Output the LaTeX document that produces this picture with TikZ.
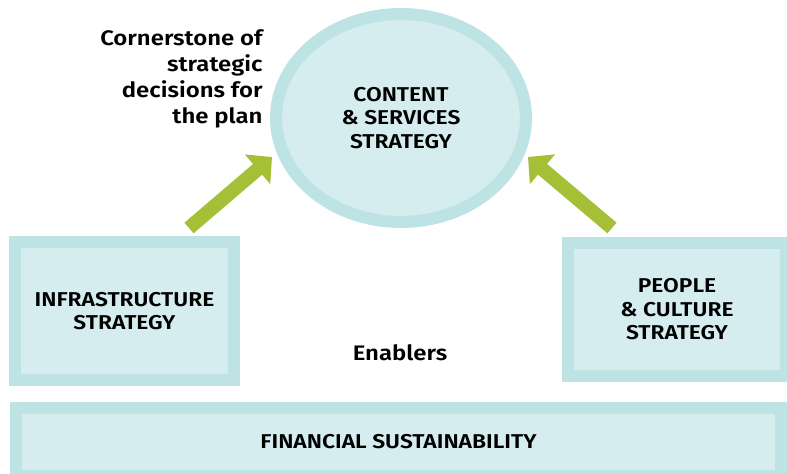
\documentclass[tikz,border=0pt]{standalone}
\usepackage{fontspec}
\setmainfont{Fira Sans}[BoldFont={Fira Sans SemiBold}, FakeStretch=1.14]
\usetikzlibrary{shapes.geometric}
\usetikzlibrary{arrows.meta}
\definecolor{rimteal}{RGB}{189,227,228}
\definecolor{fillteal}{RGB}{213,237,238}
\definecolor{leafgreen}{RGB}{165,191,55}

\begin{document}
\begin{tikzpicture}[x=0.5pt, y=-0.5pt,
	stratbox/.style={draw=rimteal, fill=fillteal, line width=6pt, inner sep=0pt, outer sep=0pt, align=center, font=\fontsize{10}{11.75}\selectfont\bfseries},
	plaintext/.style={inner sep=0pt, font=\fontsize{10.5}{13}\selectfont\bfseries},
	push/.style={leafgreen, line width=7pt, -{Triangle[length=9.5pt,width=19pt]}}]
	\useasboundingbox (0,0) rectangle (787,474);
	% the plan's centre
	\node[stratbox, ellipse, minimum width=125pt, minimum height=104pt] (content) at (401,118) {CONTENT\\\& SERVICES\\STRATEGY};
	\node[plaintext, align=right, anchor=east] (corner) at (263,79) {Cornerstone of\\strategic\\decisions for\\the plan};
	% enablers
	\node[stratbox, minimum width=109.5pt, minimum height=69pt] (infra) at (124.5,311) {INFRASTRUCTURE\\STRATEGY};
	\node[stratbox, minimum width=109pt, minimum height=66.5pt] (people) at (677,309.5) {PEOPLE\\\& CULTURE\\STRATEGY};
	\node[plaintext] (enablers) at (400,353) {Enablers};
	\node[stratbox, minimum width=382.5pt, minimum height=34pt] (finance) at (398.5,442) {FINANCIAL SUSTAINABILITY};
	% arrows
	\coordinate (infratail) at (189,228);
	\coordinate (infratip) at (272,157);
	\coordinate (peopletail) at (612,228);
	\coordinate (peopletip) at (528,157);
	\draw[push] (infratail) -- (infratip);
	\draw[push] (peopletail) -- (peopletip);
\end{tikzpicture}
\end{document}
